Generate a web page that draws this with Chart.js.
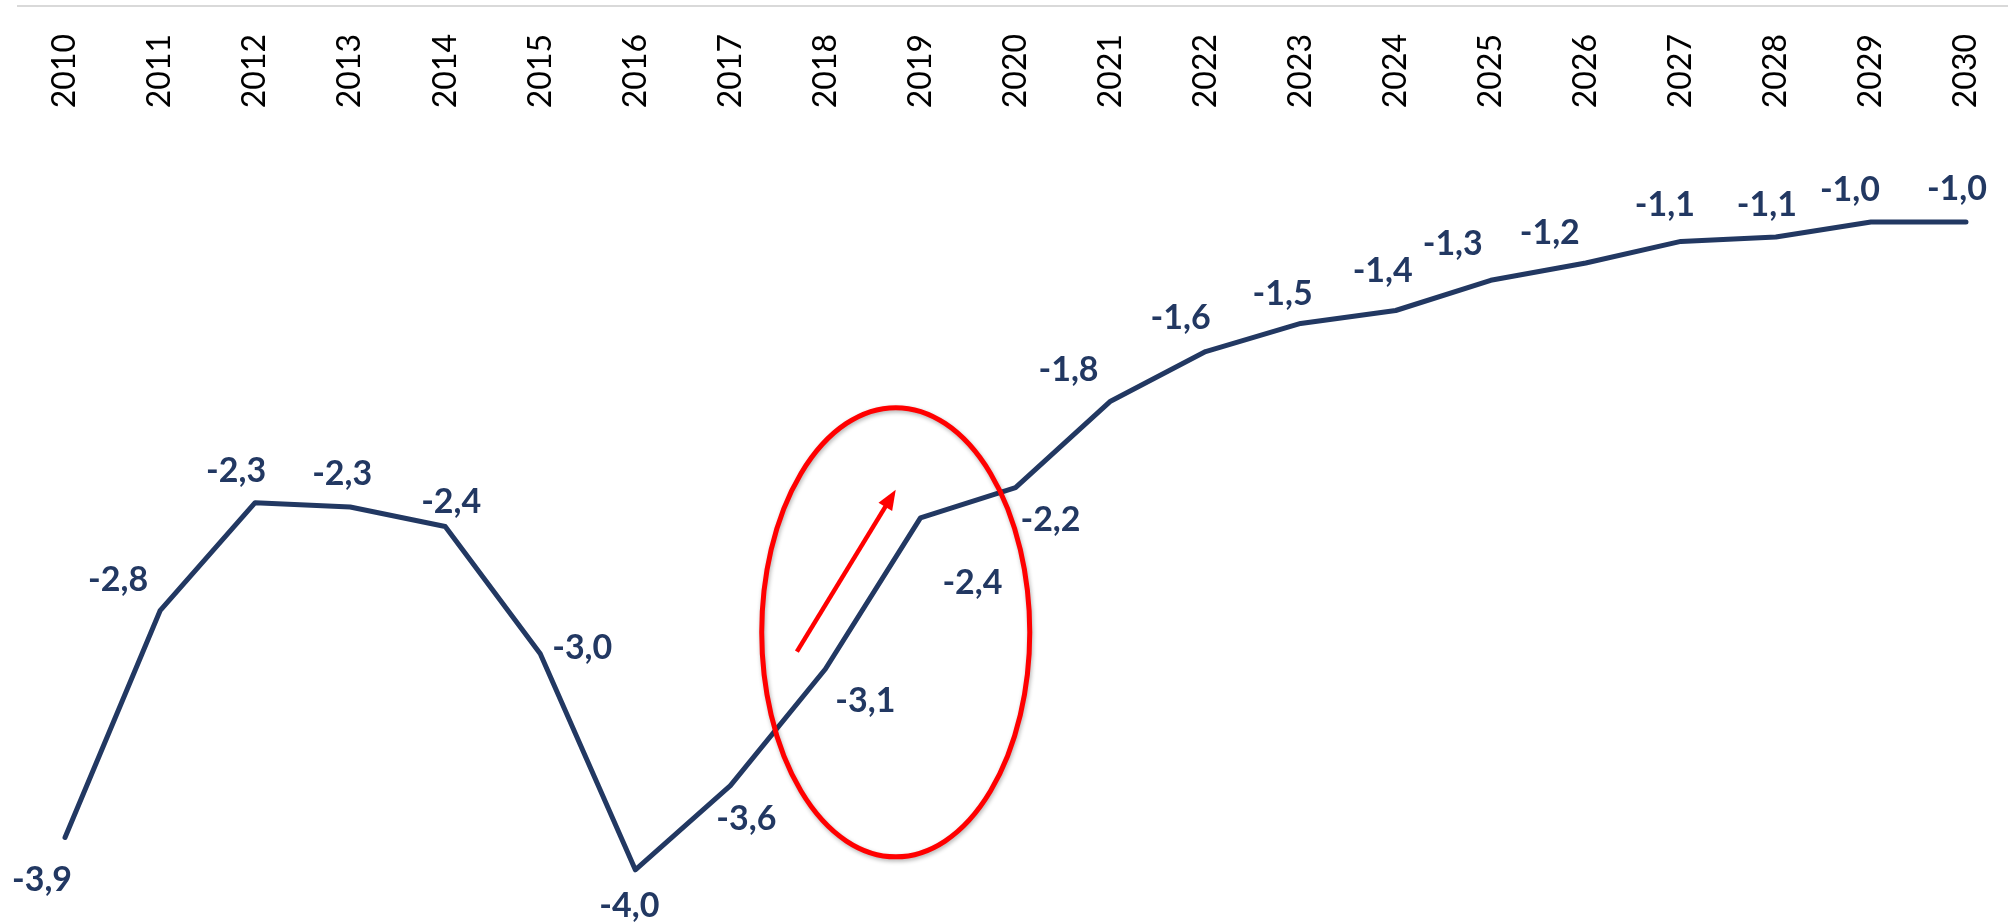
<!DOCTYPE html>
<html>
<head>
<meta charset="utf-8">
<script src="https://cdn.jsdelivr.net/npm/chart.js@4.4.0/dist/chart.umd.min.js"></script>
<style>
    html, body { margin: 0; padding: 0; background: #fff; overflow: hidden; }
    canvas { display: block; }
</style>
</head>
<body>
<canvas id="chart" width="2014" height="922"></canvas>
<script>
const years = ['2010', '2011', '2012', '2013', '2014', '2015', '2016', '2017', '2018', '2019', '2020',
    '2021', '2022', '2023', '2024', '2025', '2026', '2027', '2028', '2029', '2030'];
const balance = [-3.85, -2.80, -2.30, -2.32, -2.41, -3.00, -4.00, -3.61, -3.07, -2.37, -2.23,
    -1.83, -1.60, -1.47, -1.41, -1.27, -1.19, -1.09, -1.07, -1.00, -1.00];
const yMin = -4.2;
const yMax = 0;

const navy = '#223862';

// where each value label sits, relative to its point (px)
const labelShift = [[-23, 43], [-42, -31], [-19, -32], [-8, -33], [6, -24], [42, -6], [-6, 36],
    [16, 33], [40, 32], [52, 65], [35, 32], [-42, -31], [-25, -33], [-18, -29], [-13, -39],
    [-38, -36], [-36, -30], [-16, -36], [-9, -32], [-21, -32], [-9, -33]];

// red highlight: ellipse and arrow, in category index / value units
const ring = { x: 8.74, y: -2.9, rx: 1.41, ry: 1.04 };
const arrow = { x1: 7.70, y1: -2.99, x2: 8.74, y2: -2.24 };

// one decimal, rounded away from zero, comma separator
const fmt = v => (Math.sign(v) * Math.round(Math.abs(v) * 10) / 10).toFixed(1).replace('.', ',');

const valueLabels = {
    id: 'valueLabels',
    afterDatasetsDraw(chart) {
        const ctx = chart.ctx;
        const meta = chart.getDatasetMeta(0);
        ctx.save();
        ctx.fillStyle = navy;
        ctx.font = 'bold 34px Lato';
        ctx.textAlign = 'center';
        ctx.textBaseline = 'middle';
        meta.data.forEach((pt, i) => {
            const [dx, dy] = labelShift[i];
            ctx.fillText(fmt(balance[i]), pt.x + dx, pt.y + dy);
        });
        ctx.restore();
    }
};

const highlight = {
    id: 'highlight',
    afterDatasetsDraw(chart) {
        const ctx = chart.ctx;
        const xs = chart.scales.x;
        const ys = chart.scales.y;
        const step = xs.getPixelForValue(1) - xs.getPixelForValue(0);
        const unit = ys.getPixelForValue(-1) - ys.getPixelForValue(0);

        ctx.save();
        ctx.strokeStyle = '#ff0000';
        ctx.fillStyle = '#ff0000';

        // ellipse
        ctx.shadowColor = 'rgba(0,0,0,0.3)';
        ctx.shadowBlur = 4;
        ctx.shadowOffsetX = 1;
        ctx.shadowOffsetY = 2;
        ctx.lineWidth = 5;
        ctx.beginPath();
        ctx.ellipse(xs.getPixelForValue(ring.x), ys.getPixelForValue(ring.y),
            ring.rx * step, ring.ry * unit, 0, 0, Math.PI * 2);
        ctx.stroke();

        // arrow
        ctx.shadowColor = 'transparent';
        const ax1 = xs.getPixelForValue(arrow.x1), ay1 = ys.getPixelForValue(arrow.y1);
        const ax2 = xs.getPixelForValue(arrow.x2), ay2 = ys.getPixelForValue(arrow.y2);
        const ang = Math.atan2(ay2 - ay1, ax2 - ax1);
        const head = 20;
        ctx.lineWidth = 4.5;
        ctx.beginPath();
        ctx.moveTo(ax1, ay1);
        ctx.lineTo(ax2 - Math.cos(ang) * head * 0.8, ay2 - Math.sin(ang) * head * 0.8);
        ctx.stroke();
        ctx.beginPath();
        ctx.moveTo(ax2, ay2);
        ctx.lineTo(ax2 - head * Math.cos(ang) + 8 * Math.sin(ang), ay2 - head * Math.sin(ang) - 8 * Math.cos(ang));
        ctx.lineTo(ax2 - head * Math.cos(ang) - 8 * Math.sin(ang), ay2 - head * Math.sin(ang) + 8 * Math.cos(ang));
        ctx.closePath();
        ctx.fill();
        ctx.restore();
    }
};

new Chart(document.getElementById('chart'), {
    type: 'line',
    data: {
        labels: years,
        datasets: [{
            data: balance,
            borderColor: navy,
            borderWidth: 5,
            borderCapStyle: 'round',
            borderJoinStyle: 'round',
            pointRadius: 0,
            tension: 0,
            fill: false,
            clip: false
        }]
    },
    options: {
        responsive: false,
        animation: false,
        layout: {
            padding: { left: 17.5, right: 0.5, top: 6, bottom: 9 }
        },
        scales: {
            x: {
                position: { y: 0 },
                offset: true,
                // tickLength only pushes the labels down, marks are not drawn
                grid: { display: false, drawTicks: true, tickLength: 25 },
                border: { display: true, color: '#d9d9d9', width: 2 },
                ticks: {
                    autoSkip: false,
                    minRotation: 90,
                    maxRotation: 90,
                    padding: 3,
                    color: '#000',
                    font: { family: 'Lato', size: 32 }
                }
            },
            y: {
                display: false,
                min: yMin,
                max: yMax
            }
        },
        plugins: {
            legend: { display: false },
            tooltip: { enabled: false }
        }
    },
    plugins: [valueLabels, highlight]
});
</script>
</body>
</html>
